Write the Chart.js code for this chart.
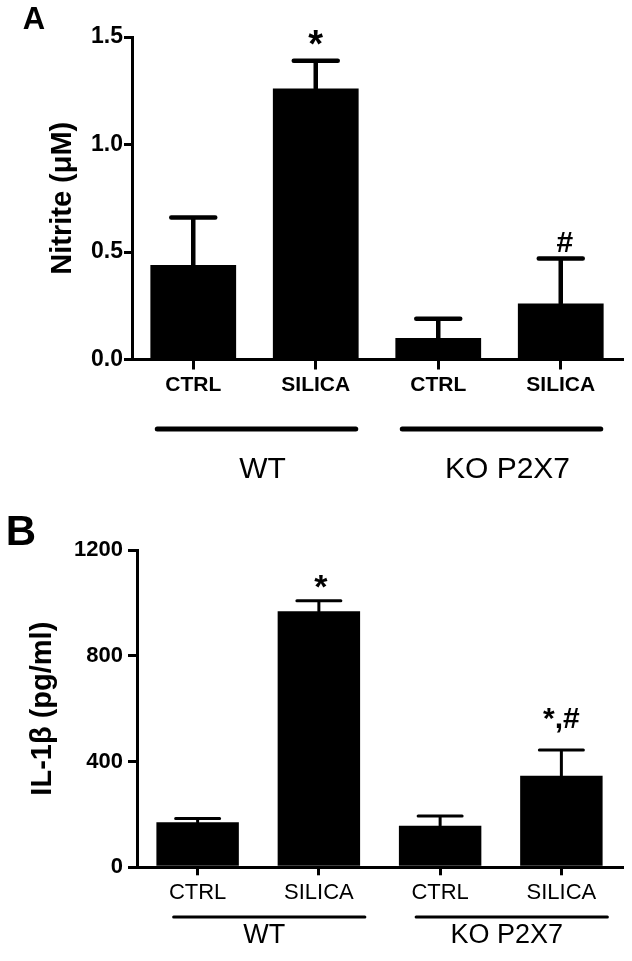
<!DOCTYPE html>
<html>
<head>
<meta charset="utf-8">
<script src="https://cdn.jsdelivr.net/npm/chart.js@4.4.1/dist/chart.umd.min.js"></script>
<style>
  body { margin: 0; background: #fff; }
  canvas { display: block; }
</style>
</head>
<body>
<canvas id="nitriteChart" width="632" height="480"></canvas>
<canvas id="il1bChart" width="632" height="481"></canvas>
<script>
// Data (mean + upper SEM)
const categories = ["CTRL", "SILICA", "CTRL", "SILICA"];
const groups = ["WT", "KO P2X7"];
const nitriteMean = [0.44, 1.26, 0.10, 0.26];
const nitriteSem = [0.22, 0.13, 0.09, 0.21];
const nitriteMarks = ["", "*", "", "#"];
const il1bMean = [170, 968, 157, 346];
const il1bSem = [15, 40, 37, 98];
const il1bMarks = ["", "*", "", "*,#"];

const FONT = "'Liberation Sans', Arial, Helvetica, sans-serif";

// Error bars, significance marks, group bars and panel letter
const decorPlugin = {
    id: "decor",
    afterDatasetsDraw(chart, args, opts) {
        const ctx = chart.ctx;
        const y = chart.scales.y;
        const ds = chart.data.datasets[0];
        ctx.save();
        ctx.strokeStyle = "#000";
        ctx.fillStyle = "#000";
        ctx.lineWidth = opts.errWidth;
        ctx.lineCap = "round";
        chart.getDatasetMeta(0).data.forEach((bar, i) => {
            const top = y.getPixelForValue(ds.data[i] + ds.sem[i]);
            ctx.beginPath();
            ctx.moveTo(bar.x, y.getPixelForValue(ds.data[i]));
            ctx.lineTo(bar.x, top);
            ctx.moveTo(bar.x - opts.capHalf, top);
            ctx.lineTo(bar.x + opts.capHalf, top);
            ctx.stroke();
            if (ds.marks[i]) {
                ctx.font = opts.markFonts[i];
                ctx.textAlign = "center";
                ctx.textBaseline = "alphabetic";
                ctx.fillText(ds.marks[i], bar.x + opts.markShift[i], top - opts.markGap[i]);
            }
        });
        ctx.restore();
    },
    afterDraw(chart, args, opts) {
        const ctx = chart.ctx;
        const x = chart.scales.x;
        ctx.save();
        ctx.strokeStyle = "#000";
        ctx.fillStyle = "#000";
        ctx.lineCap = "round";
        ctx.lineWidth = opts.groupWidth;
        ctx.textAlign = "center";
        ctx.textBaseline = "middle";
        ctx.font = opts.groupFont;
        groups.forEach((g, k) => {
            const x0 = x.getPixelForValue(2 * k) - opts.spanLeft;
            const x1 = x.getPixelForValue(2 * k + 1) + opts.spanRight;
            ctx.beginPath();
            ctx.moveTo(x0, opts.groupLineY);
            ctx.lineTo(x1, opts.groupLineY);
            ctx.stroke();
            ctx.fillText(g, (x0 + x1) / 2 + opts.labelShift, opts.groupLabelY);
        });
        ctx.font = opts.letterFont;
        ctx.fillText(opts.letter, opts.letterX, opts.letterY);
        ctx.restore();
    }
};

function makeChart(id, cfg) {
    return new Chart(document.getElementById(id), {
        type: "bar",
        data: {
            labels: categories,
            datasets: [{
                data: cfg.mean,
                sem: cfg.sem,
                marks: cfg.marks,
                backgroundColor: "#000",
                borderWidth: 0,
                barPercentage: cfg.barPct,
                categoryPercentage: 1
            }]
        },
        options: {
            responsive: false,
            animation: false,
            layout: { padding: { left: 0, right: 10, top: cfg.top, bottom: 0 } },
            plugins: {
                legend: { display: false },
                tooltip: { enabled: false },
                decor: cfg.decor
            },
            scales: {
                x: {
                    offset: true,
                    grid: { offset: false, drawOnChartArea: false, tickLength: cfg.xTick, lineWidth: 3, color: "#000" },
                    border: { color: "#000", width: 3 },
                    ticks: { color: "#000", font: cfg.catFont, padding: cfg.xPad, maxRotation: 0, autoSkip: false },
                    afterFit: s => { s.height = cfg.xHeight; }
                },
                y: {
                    min: 0,
                    max: cfg.max,
                    ticks: { stepSize: cfg.step, color: "#000", font: { family: FONT, size: cfg.tickSize, weight: "bold" }, padding: cfg.yPad, callback: cfg.fmt },
                    grid: { drawOnChartArea: false, tickLength: cfg.yTick, lineWidth: 3, color: "#000" },
                    border: { color: "#000", width: 3 },
                    title: { display: true, text: cfg.title, color: "#000", font: { family: FONT, size: 29, weight: "bold" }, padding: { top: cfg.titlePad, bottom: 0 } },
                    afterFit: s => { s.width = cfg.yWidth; }
                }
            }
        },
        plugins: [decorPlugin]
    });
}

makeChart("nitriteChart", {
    mean: nitriteMean, sem: nitriteSem, marks: nitriteMarks,
    barPct: 0.70, top: 37, max: 1.5, step: 0.5, fmt: v => v.toFixed(1),
    tickSize: 23, yPad: 1, yTick: 8, yWidth: 132, titlePad: 46, title: "Nitrite (\u03bcM)",
    catFont: { family: FONT, size: 21, weight: "bold" }, xTick: 10, xPad: 3, xHeight: 120.5,
    decor: {
        errWidth: 4.5, capHalf: 22,
        markFonts: ["", "bold 38px " + FONT, "", "bold 30px " + FONT],
        markGap: [0, 4, 0, 6], markShift: [0, 0, 0, 4],
        groupWidth: 5, groupLineY: 429, spanLeft: 36, spanRight: 40, labelShift: 6,
        groupLabelY: 470, groupFont: "30px " + FONT,
        letter: "A", letterFont: "bold 31px " + FONT, letterX: 34, letterY: 20
    }
});

makeChart("il1bChart", {
    mean: il1bMean, sem: il1bSem, marks: il1bMarks,
    barPct: 0.68, top: 70, max: 1200, step: 400, fmt: v => v,
    tickSize: 22, yPad: 5, yTick: 9, yWidth: 137, titlePad: 26, title: "IL-1\u03b2 (pg/ml)",
    catFont: { family: FONT, size: 22 }, xTick: 8, xPad: 4, xHeight: 93.7,
    decor: {
        errWidth: 3, capHalf: 22,
        markFonts: ["", "bold 34px " + FONT, "", "bold 30px " + FONT],
        markGap: [0, 3, 0, 22], markShift: [0, 2, 0, 0],
        groupWidth: 3, groupLineY: 437, spanLeft: 24, spanRight: 46, labelShift: -5,
        groupLabelY: 456, groupFont: "27px " + FONT,
        letter: "B", letterFont: "bold 42px " + FONT, letterX: 21, letterY: 53
    }
});
</script>
</body>
</html>
